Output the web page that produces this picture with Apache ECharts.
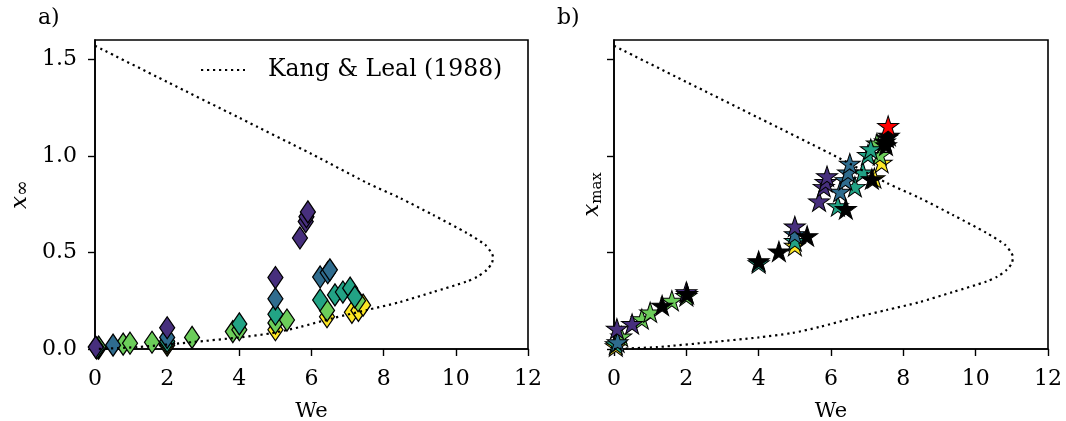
<!DOCTYPE html>
<html>
<head>
<meta charset="utf-8">
<script src="https://cdn.jsdelivr.net/npm/echarts@6/dist/echarts.min.js"></script>
<style>
html,body{margin:0;padding:0;background:#fff;}
#c{width:1066px;height:421px;}
</style>
</head>
<body>
<div id="c"></div>
<script>
// ---- data ----
const xTicks = [0, 2, 4, 6, 8, 10, 12];
const yTicks = [0, 0.5, 1.0, 1.5];
const curveName = 'Kang & Leal (1988)';
// Kang & Leal (1988) curve: [We, x]
const curvePts = [[0,1.57],[2,1.383],[4,1.197],[6,1.01],[7.54,0.86],[8.45,0.782],[9.37,0.694],[10.31,0.60],[10.81,0.54],[10.98,0.50],[11.03,0.477],[11.0,0.445],[10.86,0.41],[10.6,0.375],[10.31,0.35],[9.37,0.295],[8.45,0.243],[7.54,0.202],[6.6,0.16],[5.68,0.114],[4.93,0.083],[4.0,0.06],[2.72,0.036],[1.19,0.01],[0,0]];

// panel a) x_inf, diamonds
const aPurple = [[0.02,0.01],[2,0.11],[5,0.37],[5.68,0.575],[5.84,0.66],[5.86,0.685],[5.9,0.71]];
const aBlue   = [[0.5,0.02],[2,0.06],[5,0.26],[6.24,0.373],[6.45,0.395],[6.51,0.41]];
const aTeal   = [[0.05,0.005],[2,0.04],[4,0.13],[5,0.18],[6.24,0.254],[6.65,0.28],[6.87,0.295],[7.07,0.315],[7.2,0.27]];
const aGreen  = [[0.1,0.01],[0.78,0.025],[0.97,0.03],[1.58,0.035],[2,0.03],[2.69,0.06],[3.82,0.09],[4.0,0.10],[5,0.135],[5.32,0.15],[6.43,0.2],[7.29,0.25]];
const aYellow = [[0.1,0.005],[2,0.02],[5,0.1],[6.43,0.167],[7.12,0.19],[7.3,0.2],[7.43,0.227]];

// panel b) x_max, stars
const bPurple = [[0.08,0.1],[0.5,0.125],[2.0,0.29],[5.0,0.63],[5.67,0.76],[5.8,0.835],[5.85,0.86],[5.89,0.89]];
const bBlue   = [[0.1,0.03],[5.0,0.59],[6.25,0.81],[6.4,0.87],[6.47,0.91],[6.52,0.955]];
const bTeal   = [[0.05,0.02],[4.0,0.44],[5.0,0.555],[6.19,0.735],[6.66,0.835],[6.88,0.91],[7.02,1.0],[7.1,1.03]];
const bGreen  = [[0.2,0.06],[0.77,0.15],[1.0,0.185],[1.6,0.245],[2.0,0.27],[7.27,1.06],[7.35,1.0]];
const bYellow = [[0.05,0.01],[5.0,0.53],[7.2,0.88],[7.4,0.96]];
const bBlack  = [[1.33,0.22],[2.02,0.28],[4.0,0.45],[4.56,0.5],[5.34,0.58],[6.41,0.72],[7.13,0.875],[7.52,1.05],[7.49,1.07],[7.55,1.09],[7.6,1.1]];
const bRed    = [[7.58,1.15]];

// ---- style ----
const FONT = 'DejaVu Serif';
const C = {purple:'#472f7d', blue:'#2f6c8e', teal:'#22a385', green:'#6ccd5a', yellow:'#fde725', black:'#000000', red:'#ff0000'};
const starPath = 'path://M0,-100 L22.45,-30.9 L95.11,-30.9 L36.33,11.8 L58.78,80.9 L0,38.2 L-58.78,80.9 L-36.33,11.8 L-95.11,-30.9 L-22.45,-30.9 Z';

function xAxis(gi){
  return {
    type:'value', gridIndex:gi, min:0, max:12, interval:2,
    name:'We', nameLocation:'middle', nameGap:52,
    nameTextStyle:{fontFamily:FONT, fontSize:21, color:'#000'},
    axisLine:{show:true, lineStyle:{color:'#000', width:1.6}},
    axisTick:{show:true, length:7, lineStyle:{color:'#000', width:1.4}},
    axisLabel:{fontFamily:FONT, fontSize:22, color:'#000', margin:19},
    splitLine:{show:false}
  };
}
function yAxis(gi, name, gap, labels, subSize){
  return {
    type:'value', gridIndex:gi, min:0, max:1.6,
    name:name, nameLocation:'middle', nameGap:gap, nameRotate:90,
    nameTextStyle:{fontFamily:FONT, fontSize:21, color:'#000',
      rich:{
        x:{fontFamily:FONT, fontStyle:'italic', fontSize:23, lineHeight:26, verticalAlign:'middle', color:'#000'},
        s:{fontFamily:FONT, fontSize:subSize, lineHeight:subSize, verticalAlign:'bottom', color:'#000'}
      }},
    axisLine:{show:true, lineStyle:{color:'#000', width:1.6}},
    axisTick:{show:true, length:7, customValues:yTicks, lineStyle:{color:'#000', width:1.4}},
    axisLabel:{show:labels, customValues:yTicks, fontFamily:FONT, fontSize:22, color:'#000', margin:18,
      formatter:function(v){return v.toFixed(1);}},
    splitLine:{show:false}
  };
}
function diamonds(name, data, color, z){
  return {type:'scatter', name:name, xAxisIndex:0, yAxisIndex:0, data:data,
    symbol:'diamond', symbolSize:[15,22], z:z,
    itemStyle:{color:color, borderColor:'#000', borderWidth:1.3, opacity:1},
    emphasis:{disabled:true}};
}
function stars(name, data, color, z){
  return {type:'scatter', name:name, xAxisIndex:1, yAxisIndex:1, data:data,
    symbol:starPath, symbolSize:[21,20], symbolOffset:[0,-1], z:z,
    itemStyle:{color:color, borderColor:'#000', borderWidth:1, opacity:1},
    emphasis:{disabled:true}};
}
function curve(name, gi){
  return {type:'line', name:name, xAxisIndex:gi, yAxisIndex:gi, data:curvePts,
    showSymbol:false, symbol:'none', smooth:0.25, z:5, silent:true,
    lineStyle:{color:'#000', width:2.2, type:[2.2,3.8]}};
}

const chart = echarts.init(document.getElementById('c'), null, {renderer:'canvas'});
chart.setOption({
  animation:false,
  backgroundColor:'#fff',
  textStyle:{fontFamily:FONT},
  grid:[
    {left:95, top:40, width:433, height:309, outerBoundsMode:'none', containLabel:false, show:true, borderColor:'#000', borderWidth:1.6, backgroundColor:'transparent'},
    {left:614, top:40, width:434, height:309, outerBoundsMode:'none', containLabel:false, show:true, borderColor:'#000', borderWidth:1.6, backgroundColor:'transparent'}
  ],
  xAxis:[xAxis(0), xAxis(1)],
  yAxis:[yAxis(0, '{x|x}{s|∞}', 62, true, 19), yAxis(1, '{x|x}{s|max}', 9, false, 15)],
  graphic:[
    {type:'text', left:38, top:7, style:{text:'a)', fontFamily:FONT, fontSize:22, fill:'#000'}},
    {type:'text', left:557, top:7, style:{text:'b)', fontFamily:FONT, fontSize:22, fill:'#000'}},
    // legend
    {type:'line', shape:{x1:201, y1:70, x2:245, y2:70}, z:10,
      style:{stroke:'#000', lineWidth:2.2, lineDash:[2.2,3.8]}},
    {type:'text', x:268, y:70, z:10, style:{text:curveName, fontFamily:FONT, fontSize:23.5, fill:'#000', textVerticalAlign:'middle', verticalAlign:'middle'}}
  ],
  series:[
    diamonds('aYellow', aYellow, C.yellow, 2),
    diamonds('aGreen', aGreen, C.green, 2),
    diamonds('aTeal', aTeal, C.teal, 2),
    diamonds('aBlue', aBlue, C.blue, 2),
    diamonds('aPurple', aPurple, C.purple, 2),
    curve(curveName, 0),
    stars('bYellow', bYellow, C.yellow, 2),
    stars('bGreen', bGreen, C.green, 2),
    stars('bTeal', bTeal, C.teal, 2),
    stars('bBlue', bBlue, C.blue, 2),
    stars('bPurple', bPurple, C.purple, 2),
    stars('bBlack', bBlack, C.black, 3),
    stars('bRed', bRed, C.red, 4),
    curve('curveB', 1)
  ]
});
</script>
</body>
</html>
